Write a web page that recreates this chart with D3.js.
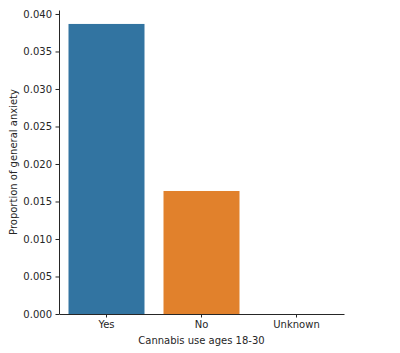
<!DOCTYPE html>
<html>
<head>
<meta charset="utf-8">
<script src="https://cdn.jsdelivr.net/npm/d3@7"></script>
<style>
  body { margin: 0; background: #fff; }
  svg text { font-family: "DejaVu Sans", sans-serif; fill: #262626; }
  .axis path, .axis line { stroke: #262626; }
</style>
</head>
<body>
<div id="chart"></div>
<script>
// chart data
const categories = ['Yes', 'No', 'Unknown'];
const proportions = [0.03867, 0.0164, 0];
const barColors = ['#3274a1', '#e1812c', '#3a923a'];
const yTicks = [0, 0.005, 0.01, 0.015, 0.02, 0.025, 0.03, 0.035, 0.04];

const width = 400, height = 353;
const margin = { top: 10, right: 56, bottom: 39, left: 59 };

const svg = d3.select('#chart').append('svg')
  .attr('width', width)
  .attr('height', height);

const plotW = width - margin.left - margin.right;
const plotH = height - margin.top - margin.bottom;

// scales
const xScale = d3.scaleBand().domain(categories).range([0, plotW]).paddingInner(0.2).paddingOuter(0.1);
const yScale = d3.scaleLinear().domain([0, 0.04053]).range([plotH, 0]);

const chart = svg.append('g')
  .attr('transform', `translate(${margin.left}, ${margin.top})`);

// bars
chart.selectAll('.bar')
  .data(categories)
  .enter().append('rect')
  .attr('class', 'bar')
  .attr('x', d => xScale(d))
  .attr('width', xScale.bandwidth())
  .attr('y', (d, i) => yScale(proportions[i]))
  .attr('height', (d, i) => plotH - yScale(proportions[i]))
  .style('fill', (d, i) => barColors[i]);

// axes
const xAxis = chart.append('g')
  .attr('class', 'axis')
  .attr('transform', `translate(0, ${plotH})`)
  .call(d3.axisBottom(xScale).tickSize(3.5).tickPadding(3.5).tickSizeOuter(0));
xAxis.selectAll('text').style('font-size', '10px');

const yAxis = chart.append('g')
  .attr('class', 'axis')
  .call(d3.axisLeft(yScale).tickValues(yTicks).tickFormat(d3.format('.3f')).tickSize(3.5).tickPadding(3.5).tickSizeOuter(0));
yAxis.selectAll('text').style('font-size', '10px');

// axis labels
svg.append('text')
  .attr('x', margin.left + plotW / 2)
  .attr('y', 344)
  .style('text-anchor', 'middle')
  .style('font-size', '10px')
  .text('Cannabis use ages 18-30');

svg.append('text')
  .attr('transform', 'rotate(-90)')
  .attr('x', -(margin.top + plotH / 2))
  .attr('y', 17)
  .style('text-anchor', 'middle')
  .style('font-size', '10px')
  .text('Proportion of general anxiety');
</script>
</body>
</html>
